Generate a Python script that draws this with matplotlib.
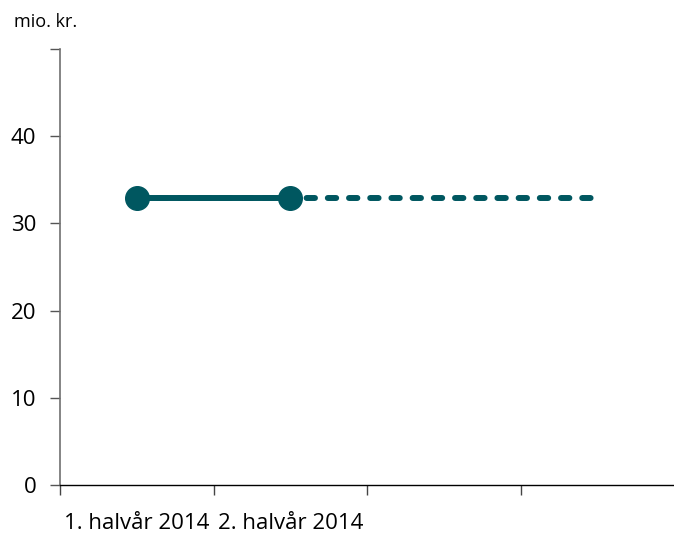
import matplotlib
matplotlib.use("Agg")
import matplotlib.pyplot as plt

categories = ["1. halvår 2014", "2. halvår 2014", "", ""]
actual = [32.9, 32.9]
budget = [32.9, 32.9, 32.9, 32.9]
yticks = [0, 10, 20, 30, 40, 50]
ytick_labels = ["0", "10", "20", "30", "40", ""]

color = "#005760"
plt.rcParams['font.family'] = ['Open Sans', 'DejaVu Sans']

fig = plt.figure(figsize=(6.74, 5.33), dpi=100)
ax = fig.add_axes([60/674, 1-485/533, 1-60/674, (485-49)/533])

x_all = list(range(len(budget)))
x_act = list(range(len(actual)))
ax.plot(x_act, actual, color=color, lw=4.3, solid_capstyle='round', zorder=3)
ax.plot(x_all, budget, color=color, lw=4.3, linestyle=(0, (1.4, 2.15)),
        dash_capstyle='round', zorder=3)
ax.plot(x_act, actual, 'o', color=color, markersize=17, zorder=4)

ax.set_xlim(-0.5, 3.5)
ax.set_ylim(0, 50)
ax.set_yticks(yticks)
ax.set_yticklabels(ytick_labels, fontsize=16)
ax.set_xticks([-0.5, 0.5, 1.5, 2.5])
ax.set_xticklabels([])
ax.set_xticks(x_all, minor=True)
ax.set_xticklabels(categories, minor=True, fontsize=16)
ax.tick_params(axis='x', which='minor', length=0, pad=20)
ax.tick_params(axis='x', which='major', length=7, width=1, color='#444444', direction='out')
ax.tick_params(axis='y', length=7, width=1, color='#555555', direction='out', pad=10)

for s in ['top', 'right']:
    ax.spines[s].set_visible(False)
ax.spines['left'].set_color('#707070')
ax.spines['left'].set_linewidth(1.2)
ax.spines['bottom'].set_color('#000000')
ax.spines['bottom'].set_linewidth(1.0)

fig.text(14/674, 1-22/533, "mio. kr.", fontsize=13, va='center', ha='left')

fig.savefig("out.png", dpi=100)
